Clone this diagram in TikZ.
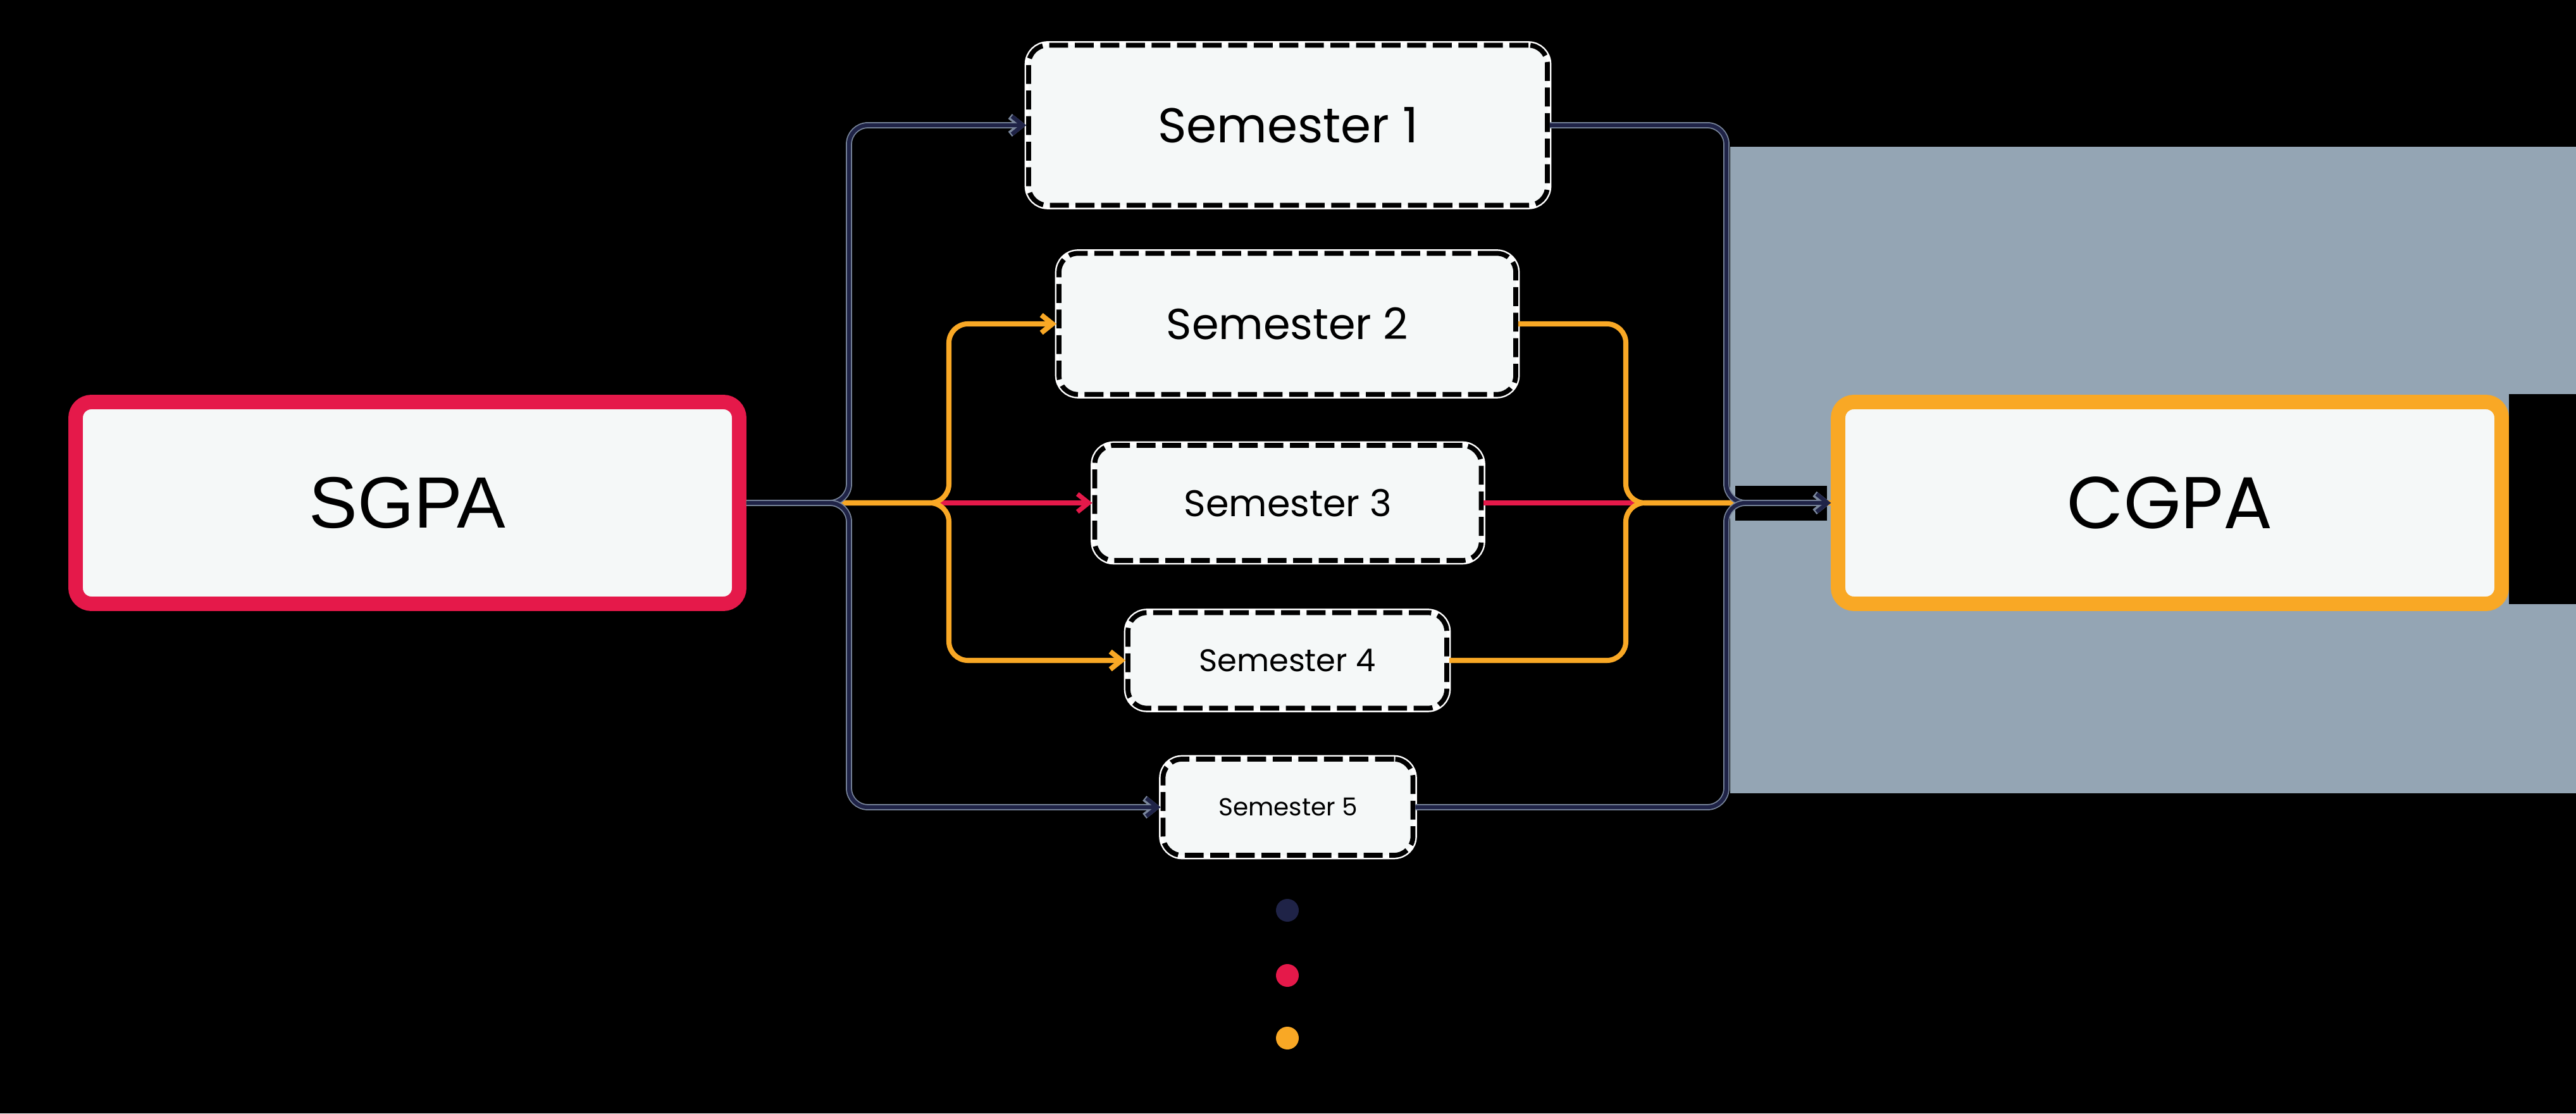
\documentclass[tikz,border=0pt]{standalone}
\usepackage{fontspec}
\setmainfont{Poppins}
\newfontfamily\arialfont{Liberation Sans}
\usepackage{xcolor}
\usepackage{tikz}
\usetikzlibrary{arrows.meta}

\definecolor{navyline}{HTML}{1F2347}
\definecolor{navyhalo}{HTML}{7A879C}
\definecolor{redline}{HTML}{E5194A}
\definecolor{orangeline}{HTML}{F9A825}
\definecolor{boxfill}{HTML}{F5F8F8}
\definecolor{hazegray}{HTML}{94A5B4}

\tikzset{
    semester/.style={draw=black, line width=2.2pt, dash pattern=on 8.5pt off 3pt,
        fill=boxfill, rounded corners=0.3cm, inner sep=0pt,
        preaction={draw=white, solid, line width=3.6pt}},
    gradebox/.style={line width=6.5pt, fill=boxfill, rounded corners=0.25cm,
        minimum width=10.49cm, minimum height=3.19cm, inner sep=0pt},
    navypath/.style={draw=navyline, line width=1.8pt, rounded corners=0.3cm,
        preaction={draw=navyhalo, line width=2.8pt}},
    redpath/.style={draw=redline, line width=2.1pt, rounded corners=0.3cm},
    orangepath/.style={draw=orangeline, line width=2.3pt, rounded corners=0.3cm},
    barb/.style={-{Straight Barb[length=5pt,width=8pt]}}
}

\begin{document}
\begin{tikzpicture}
            \useasboundingbox (0,0) rectangle (40.72,17.6);
            \fill[black] (0,0) rectangle (40.72,17.6);
            \fill[hazegray] (27.35,5.06) rectangle (40.72,15.28);
            \fill[black] (39.66,8.05) rectangle (40.72,11.37);
            \fill[black] (27.43,9.37) rectangle (28.88,9.92);

            \node[gradebox, draw=redline, font=\arialfont\fontsize{32.7}{38}\selectfont] (sgpa) at (6.44, 9.65) {SGPA};
            \node[gradebox, draw=orangeline, font=\fontsize{33}{38}\selectfont] (cgpa) at (34.30, 9.65) {CGPA};

            \node[semester, minimum width=8.20cm, minimum height=2.53cm, font=\fontsize{22}{26}\selectfont] (sem1) at (20.36, 15.62) {Semester 1};
            \node[semester, minimum width=7.22cm, minimum height=2.23cm, font=\fontsize{19.5}{23}\selectfont] (sem2) at (20.35, 12.48) {Semester 2};
            \node[semester, minimum width=6.11cm, minimum height=1.82cm, font=\fontsize{16.7}{20}\selectfont] (sem3) at (20.36, 9.65) {Semester 3};
            \node[semester, minimum width=5.04cm, minimum height=1.51cm, font=\fontsize{14.1}{17}\selectfont] (sem4) at (20.35, 7.16) {Semester 4};
            \node[semester, minimum width=3.95cm, minimum height=1.52cm, font=\fontsize{11.1}{13}\selectfont] (sem5) at (20.36, 4.84) {Semester 5};

            \coordinate (lsplit1) at (13.42, 9.65);
            \coordinate (lsplit2) at (15.00, 9.65);
            \coordinate (rsplit2) at (25.70, 9.65);
            \coordinate (rsplit1) at (27.29, 9.65);

            \draw[redpath, barb] (sgpa.east) -- (sem3.west); % sgpa-sem3
            \draw[redpath] (sem3.east) -- (cgpa.west); % sem3-cgpa

            \draw[orangepath, barb] (sgpa.east) -- (lsplit2) |- (sem2.west); % sgpa-sem2
            \draw[orangepath, barb] (sgpa.east) -- (lsplit2) |- (sem4.west); % sgpa-sem4
            \draw[orangepath] (sem2.east) -| (rsplit2) -- (cgpa.west); % sem2-cgpa
            \draw[orangepath] (sem4.east) -| (rsplit2) -- (cgpa.west); % sem4-cgpa

            \draw[navypath, barb] (sgpa.east) -- (lsplit1) |- (sem1.west); % sgpa-sem1
            \draw[navypath, barb] (sgpa.east) -- (lsplit1) |- (sem5.west); % sgpa-sem5
            \draw[navypath, barb] (sem1.east) -| (rsplit1) -- (cgpa.west); % sem1-cgpa
            \draw[navypath, barb] (sem5.east) -| (rsplit1) -- (cgpa.west); % sem5-cgpa

            \fill[navyline] (20.35, 3.21) circle (0.18);
            \fill[redline] (20.35, 2.18) circle (0.18);
            \fill[orangeline] (20.35, 1.19) circle (0.18);
        \end{tikzpicture}
\end{document}
